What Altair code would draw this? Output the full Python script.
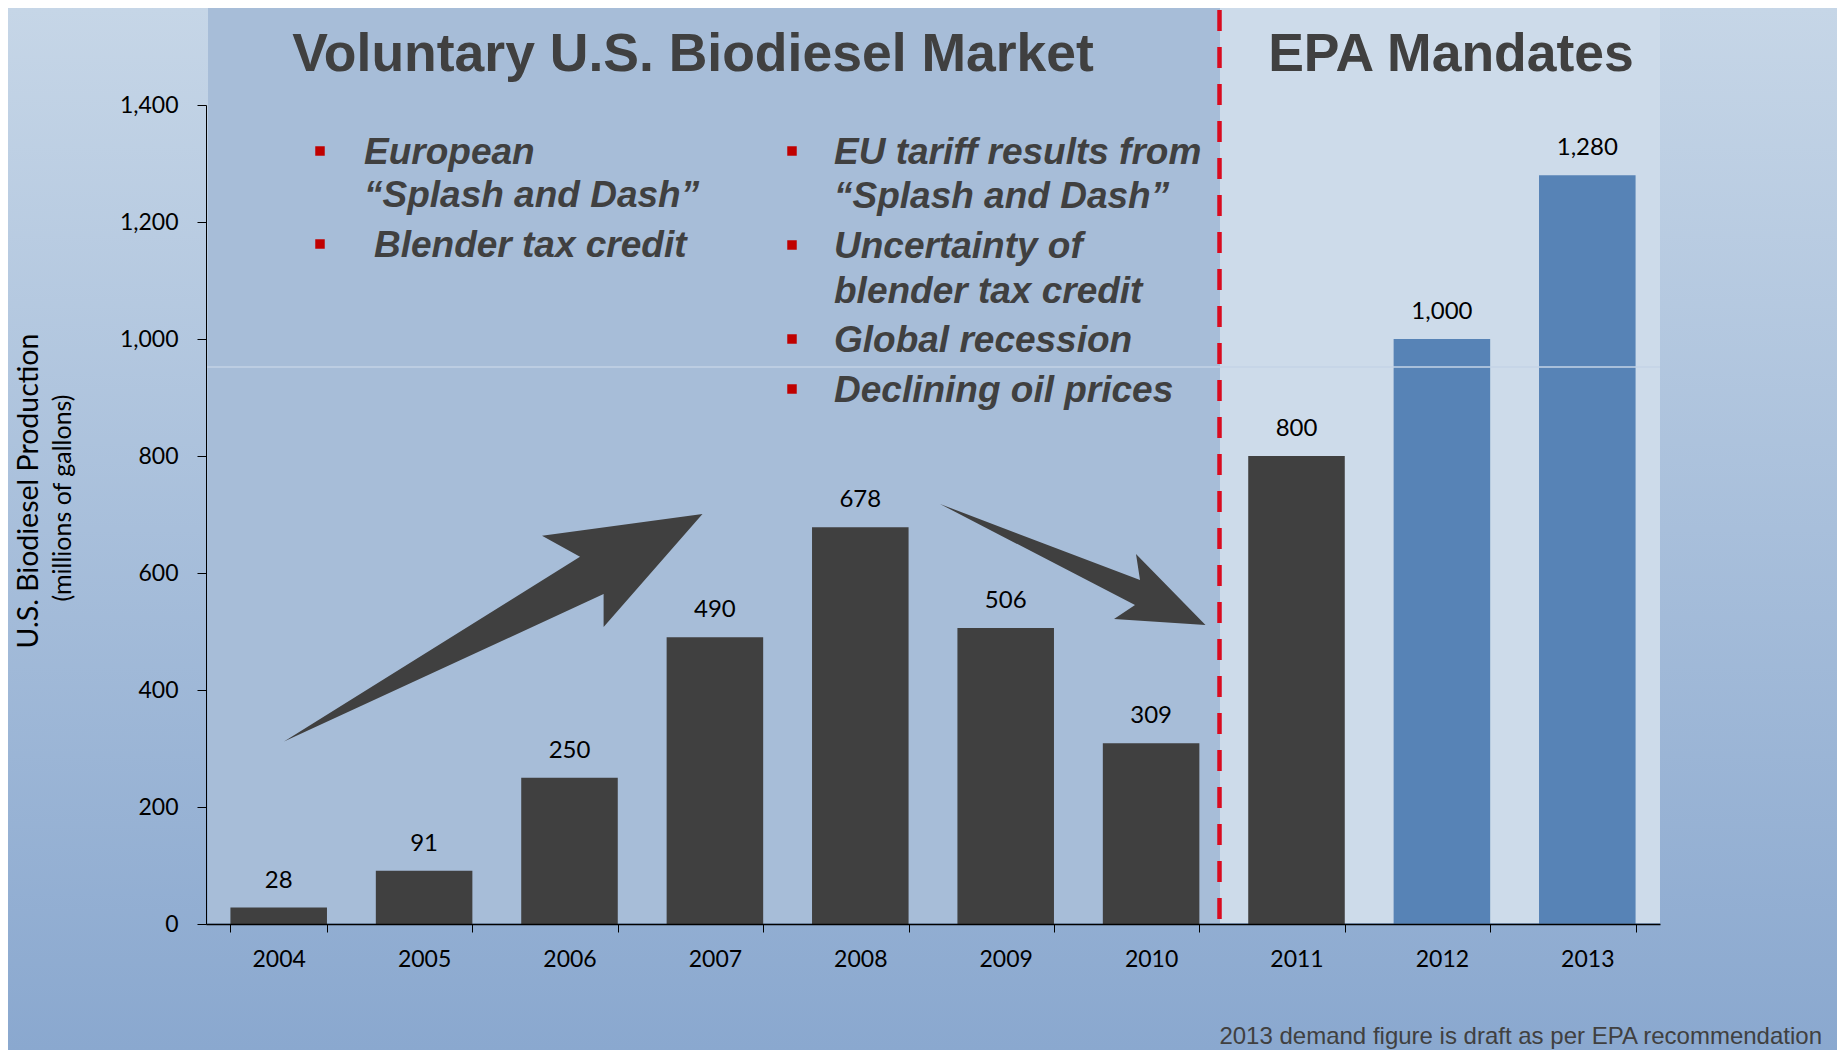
import altair as alt
import pandas as pd

# ---------------- data ----------------
years = ["2004", "2005", "2006", "2007", "2008", "2009", "2010", "2011", "2012", "2013"]
production = [28, 91, 250, 490, 678, 506, 309, 800, 1000, 1280]
bar_group = ["actual"] * 8 + ["mandate"] * 2
y_ticks = [0, 200, 400, 600, 800, 1000, 1200, 1400]

section_titles = ["Voluntary U.S. Biodiesel Market", "EPA Mandates"]
left_lines = ["European", "\u201cSplash and Dash\u201d", "Blender tax credit"]
left_bullet_on = [True, False, True]
right_lines = ["EU tariff results from", "\u201cSplash and Dash\u201d", "Uncertainty of",
               "blender tax credit", "Global recession", "Declining oil prices"]
right_bullet_on = [True, False, True, False, True, True]
y_title_lines = ["U.S. Biodiesel Production", "(millions of gallons)"]
footnote = "2013 demand figure is draft as per EPA recommendation"

df = pd.DataFrame({"year": years, "value": production, "group": bar_group})
one = pd.DataFrame({"k": [0]})

# ---------------- layout ----------------
W, H = 1454, 819
PAD_L, PAD_T, PAD_R, PAD_B = 198, 97, 177, 126
DARK = "#404040"
BLUE = "#5783b6"
LABEL_FONT = "Lato"
ARIAL = "Liberation Sans"


def deco():
    return alt.Chart(one)


bg = deco().mark_rect(
    color=alt.Gradient(
        gradient="linear",
        stops=[alt.GradientStop(color="#c6d6e7", offset=0),
               alt.GradientStop(color="#8aa8cf", offset=1)],
        x1=0, x2=0, y1=0, y2=1,
    )
).encode(x=alt.value(-PAD_L), x2=alt.value(W + PAD_R), y=alt.value(-PAD_T), y2=alt.value(H + PAD_B))

SPLIT = 1014
left_panel = deco().mark_rect(color="#a7bdd8").encode(
    x=alt.value(2), x2=alt.value(SPLIT), y=alt.value(-PAD_T), y2=alt.value(H - 1))
right_panel = deco().mark_rect(color="#cddbea").encode(
    x=alt.value(SPLIT), x2=alt.value(W), y=alt.value(-PAD_T), y2=alt.value(H - 1))

x_enc = alt.X(
    "year:N", sort=years, title=None,
    scale=alt.Scale(paddingInner=0.336, paddingOuter=0.168),
    axis=alt.Axis(labelAngle=0, tickBand="extent", tickSize=8, tickColor="#000",
                  domainColor="#000", domainWidth=1.5, labelFont=LABEL_FONT,
                  labelFontSize=23, labelColor="#000", labelPadding=16, zindex=2),
)
y_enc = alt.Y(
    "value:Q", title=None,
    scale=alt.Scale(domain=[0, 1400], nice=False),
    axis=alt.Axis(values=y_ticks, format=",d", grid=False, tickSize=9, tickColor="#000",
                  domainColor="#000", labelFont=LABEL_FONT, labelFontSize=23,
                  labelColor="#000", labelPadding=19, zindex=2),
)

base = alt.Chart(df)
bars = base.mark_bar().encode(
    x=x_enc, y=y_enc,
    color=alt.Color("group:N", scale=alt.Scale(domain=["actual", "mandate"], range=[DARK, BLUE]),
                    legend=None),
)
bar_labels = base.mark_text(baseline="middle", dy=-27, font=LABEL_FONT, fontSize=24,
                            color="#000").encode(
    x=x_enc, y=y_enc, text=alt.Text("value:Q", format=",d"))

light_line = deco().mark_rule(color="#c3d3e6", strokeWidth=1.5).encode(
    x=alt.value(0), x2=alt.value(W), y=alt.value(262))

dash_line = deco().mark_rule(color="#d90b1f", strokeWidth=4.5, strokeDash=[21, 16]).encode(
    x=alt.value(1013.5), y=alt.value(-95), y2=alt.value(822))

S = 100.0


def arrow_path(pts):
    return "M" + " L".join(f"{px / S:.3f},{py / S:.3f}" for px, py in pts) + " Z"


up_arrow_pts = [(78, 636.6), (374, 451.7), (336, 430.7), (496.5, 409),
                (397.6, 521.9), (397.6, 489)]
down_arrow_pts = [(734, 399), (934, 475), (930, 449), (999.5, 520),
                  (908, 514), (929, 500)]

arrows = [
    deco().mark_point(shape=arrow_path(p), size=(2 * S) ** 2, filled=True,
                      color=DARK, opacity=1, strokeWidth=0).encode(
        x=alt.value(0), y=alt.value(0))
    for p in (up_arrow_pts, down_arrow_pts)
]


def text_at(s, x, y, **kw):
    return deco().mark_text(text=s, **kw).encode(x=alt.value(x), y=alt.value(y))


texts = []
# section titles
for s, cx in zip(section_titles, [487, 1245]):
    texts.append(text_at(s, cx, -50, font=ARIAL, fontSize=53.5, fontWeight="bold",
                         color=DARK, align="center", baseline="middle"))

bullet_style = dict(font=ARIAL, fontSize=37, fontWeight="bold", fontStyle="italic",
                    color=DARK, align="left", baseline="middle")
layers_bullets = []
left_y = [48, 91, 141]
left_x = [158, 158, 168]
for s, yy, xx, on in zip(left_lines, left_y, left_x, left_bullet_on):
    texts.append(text_at(s, xx, yy, **bullet_style))
    if on:
        layers_bullets.append(
            deco().mark_square(size=90, color="#c00000", opacity=1).encode(
                x=alt.value(114), y=alt.value(yy - 2)))
right_y = [48, 92, 142, 187, 236, 286]
for s, yy, on in zip(right_lines, right_y, right_bullet_on):
    texts.append(text_at(s, 628, yy, **bullet_style))
    if on:
        layers_bullets.append(
            deco().mark_square(size=90, color="#c00000", opacity=1).encode(
                x=alt.value(586), y=alt.value(yy - 2)))

# y-axis title (two lines, different sizes)
texts.append(text_at(y_title_lines[0], -177, 386, font=LABEL_FONT, fontSize=28.5, angle=270,
                     color="#000", align="center", baseline="middle"))
texts.append(text_at(y_title_lines[1], -143, 393, font=LABEL_FONT, fontSize=25, angle=270,
                     color="#000", align="center", baseline="middle"))

# footnote
texts.append(text_at(footnote, 1616, 939, font=ARIAL, fontSize=24, color=DARK,
                     align="right", baseline="alphabetic"))

chart = alt.layer(
    bg, left_panel, right_panel, bars, bar_labels, light_line, dash_line,
    *arrows, *layers_bullets, *texts,
).properties(
    width=W, height=H,
    padding={"left": PAD_L, "top": PAD_T, "right": PAD_R, "bottom": PAD_B},
    autosize=alt.AutoSizeParams(type="none"),
    background="#b0c4de",
).configure_view(stroke=None)

chart.save("out.html", embed_options={"renderer": "svg", "actions": False})
